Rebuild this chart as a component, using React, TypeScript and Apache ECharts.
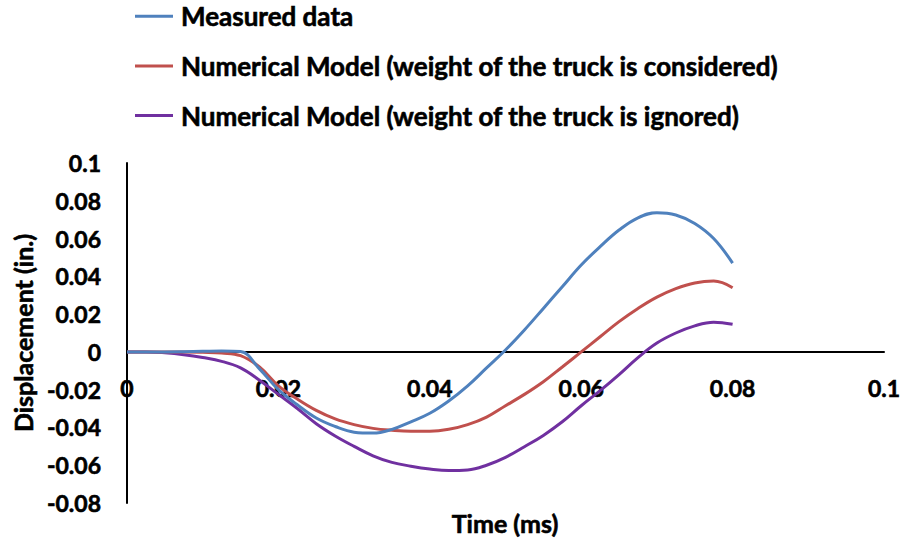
import React, { useEffect, useRef } from "react";
import * as echarts from "echarts";

const time = [
  0, 0.0025, 0.005, 0.0075, 0.01, 0.0125, 0.015, 0.0175, 0.02, 0.0225, 0.025,
  0.0275, 0.03, 0.0325, 0.035, 0.0375, 0.04, 0.0425, 0.045, 0.0475, 0.05,
  0.0525, 0.055, 0.0575, 0.06, 0.0625, 0.065, 0.0675, 0.07, 0.0725, 0.075,
  0.0775, 0.08,
];
const measured = [
  0, 0, 0, 0.0001, 0.0003, 0.0005, 0.0002, -0.009, -0.02, -0.028, -0.035,
  -0.0395, -0.0425, -0.043, -0.041, -0.037, -0.0325, -0.026, -0.018, -0.0085,
  0.001, 0.0116, 0.023, 0.0345, 0.046, 0.0557, 0.0645, 0.071, 0.0737, 0.0725,
  0.068, 0.06, 0.047,
];
const considered = [
  0, 0, 0, 0, -0.0002, -0.0006, -0.002, -0.008, -0.018, -0.025, -0.031,
  -0.0355, -0.0385, -0.0405, -0.0415, -0.042, -0.042, -0.041, -0.0385,
  -0.0345, -0.0285, -0.0225, -0.0158, -0.008, 0, 0.008, 0.016, 0.023, 0.029,
  0.0335, 0.0365, 0.0375, 0.034,
];
const ignored = [
  0, 0, -0.0005, -0.0015, -0.003, -0.005, -0.0085, -0.015, -0.0225, -0.03,
  -0.038, -0.0445, -0.05, -0.055, -0.0585, -0.0605, -0.062, -0.0628, -0.0625,
  -0.06, -0.0558, -0.0502, -0.0442, -0.037, -0.0285, -0.0205, -0.012, -0.003,
  0.0047, 0.01, 0.0138, 0.0157, 0.0146,
];
const seriesNames = [
  "Measured data",
  "Numerical Model (weight of the truck is considered)",
  "Numerical Model (weight of the truck is ignored)",
];
const colors = ["#4F81BD", "#C0504D", "#7030A0"];

const FONT = "Lato";
const BOLDER = { textBorderColor: "#000", textBorderWidth: 0.6 };

export default function App() {
  const ref = useRef<HTMLDivElement>(null);
  useEffect(() => {
    if (!ref.current) return;
    const chart = echarts.init(ref.current, undefined, { renderer: "svg" });
    const values = [measured, considered, ignored];
    chart.setOption({
      animation: false,
      backgroundColor: "#ffffff",
      grid: { left: 127, right: 20, top: 163, bottom: 38, containLabel: false },
      legend: {
        orient: "vertical",
        left: 135,
        top: 3,
        padding: 0,
        itemWidth: 38,
        itemHeight: 3,
        itemGap: 23,
        icon: "rect",
        data: seriesNames,
        textStyle: {
          fontFamily: FONT,
          fontWeight: "bold",
          fontSize: 26,
          color: "#000",
          lineHeight: 26,
          padding: [0, 0, 0, 3],
          ...BOLDER,
        },
      },
      xAxis: {
        type: "value",
        min: 0,
        max: 0.1,
        interval: 0.02,
        axisLine: { onZero: true, lineStyle: { color: "#000", width: 2 } },
        axisTick: { show: false },
        splitLine: { show: false },
        axisLabel: {
          margin: -127,
          fontFamily: FONT,
          fontWeight: "bold",
          fontSize: 23,
          color: "#000",
          ...BOLDER,
        },
      },
      yAxis: {
        type: "value",
        min: -0.08,
        max: 0.1,
        interval: 0.02,
        name: "Displacement (in.)",
        nameLocation: "middle",
        nameGap: 85,
        nameTextStyle: {
          fontFamily: FONT,
          fontWeight: "bold",
          fontSize: 25,
          color: "#000",
          ...BOLDER,
        },
        axisLine: { show: true, onZero: false, lineStyle: { color: "#000", width: 2 } },
        axisTick: { show: false },
        splitLine: { show: false },
        axisLabel: {
          margin: 26,
          fontFamily: FONT,
          fontWeight: "bold",
          fontSize: 23,
          color: "#000",
          ...BOLDER,
        },
      },
      graphic: [
        {
          type: "text",
          x: 505,
          y: 523,
          style: {
            text: "Time (ms)",
            fontFamily: FONT,
            fontWeight: "bold",
            fontSize: 25,
            fill: "#000",
            stroke: "#000",
            lineWidth: 0.6,
            align: "center",
            verticalAlign: "middle",
          },
        },
      ],
      series: seriesNames.map((name, k) => ({
        name,
        type: "line",
        smooth: 0.4,
        showSymbol: false,
        symbol: "none",
        color: colors[k],
        lineStyle: { width: 3, color: colors[k] },
        data: time.map((t, i) => [t, values[k][i]]),
        z: 3 - k,
      })),
    });
    return () => chart.dispose();
  }, []);
  return (
    <div
      ref={ref}
      style={{ position: "absolute", left: 0, top: 0, width: 904, height: 541 }}
    />
  );
}
